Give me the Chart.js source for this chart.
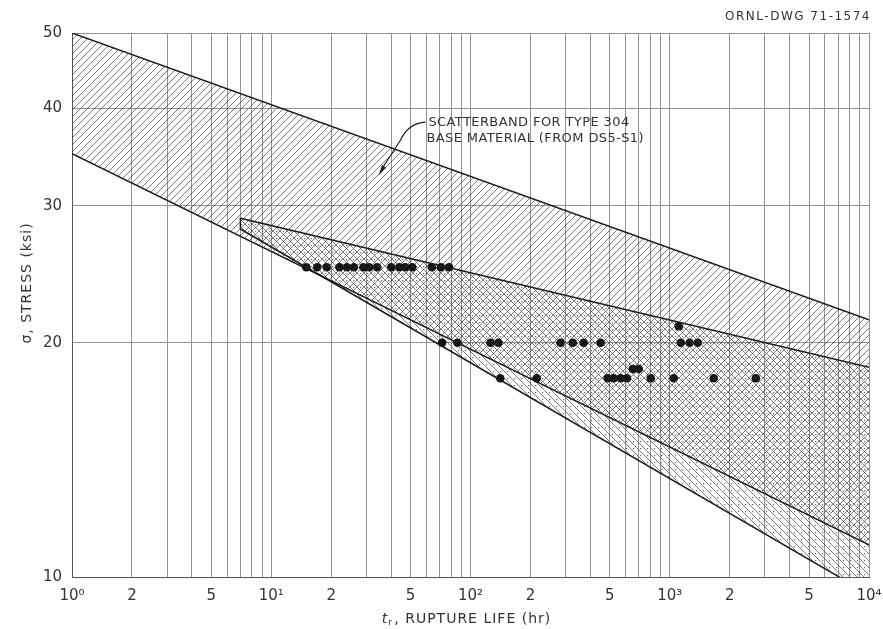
<!DOCTYPE html>
<html>
<head>
<meta charset="utf-8">
<script src="https://cdn.jsdelivr.net/npm/chart.js@4.4.1/dist/chart.umd.min.js"></script>
<style>
  html, body { margin: 0; background: #fff; }
</style>
</head>
<body>
<canvas id="ruptureChart" width="883" height="629"></canvas>
<script>
// axis ticks
const stressTicks = [10, 20, 30, 40, 50];
const labelledTimes = [1, 2, 5, 10, 20, 50, 100, 200, 500, 1000, 2000, 5000, 10000];
const timeLabels = ['10⁰', '2', '5', '10¹', '2', '5', '10²', '2', '5', '10³', '2', '5', '10⁴'];
const decades = [1, 10, 100, 1000];
const multipliers = [1, 2, 3, 4, 5, 6, 7, 8, 9];

// scatterband for type 304 base material (end points of the band edges)
const baseUpperTime = [1, 10000];
const baseUpperStress = [50, 21.4];
const baseLowerTime = [1, 10000];
const baseLowerStress = [35, 11.0];

// weldment band
const weldUpperTime = [7, 7, 10000];
const weldUpperStress = [28.0, 28.9, 18.6];
const weldLowerTime = [7, 10000];
const weldLowerStress = [28.0, 9.5];

// test results: rupture life (hr) at each stress level (ksi)
const life25 = [15, 17, 19, 22, 24, 26, 29, 31, 34, 40, 44, 47, 51, 64, 71, 78];
const life21 = [1110];
const life20 = [72, 86, 126, 138, 283, 326, 370, 450, 1136, 1258, 1382];
const life185 = [652, 699];
const life18 = [141, 215, 488, 523, 567, 610, 803, 1047, 1663, 2704];

const toPoints = (xs, ys) => xs.map((x, i) => ({ x: x, y: ys[i] }));
const atStress = (times, s) => times.map(t => ({ x: t, y: s }));

const testPoints = [].concat(
  atStress(life25, 25),
  atStress(life21, 21),
  atStress(life20, 20),
  atStress(life185, 18.5),
  atStress(life18, 18)
);

const timeGrid = decades.flatMap(d => multipliers.map(m => m * d)).concat([10000]);

const ctx = document.getElementById('ruptureChart').getContext('2d');

function makeHatch(dir, dots) {
  const size = 7;
  const c = document.createElement('canvas');
  c.width = size; c.height = size;
  const g = c.getContext('2d');
  g.strokeStyle = 'rgba(50,50,50,0.8)';
  g.lineWidth = 0.8;
  g.beginPath();
  if (dir > 0) {
    g.moveTo(0, size); g.lineTo(size, 0);
    g.moveTo(-1, 1); g.lineTo(1, -1);
    g.moveTo(size - 1, size + 1); g.lineTo(size + 1, size - 1);
  } else {
    g.moveTo(0, 0); g.lineTo(size, size);
    g.moveTo(size - 1, -1); g.lineTo(size + 1, 1);
    g.moveTo(-1, size - 1); g.lineTo(1, size + 1);
  }
  g.stroke();
  if (dots) {
    g.fillStyle = 'rgba(40,40,40,0.7)';
    g.fillRect(size / 2 - 0.5, 0, 1.2, 1.2);
  }
  return ctx.createPattern(c, 'repeat');
}

const basePattern = makeHatch(1, false);
const weldPattern = makeHatch(-1, true);

const textColor = '#333';

const notesPlugin = {
  id: 'notes',
  afterDraw(chart) {
    const g = chart.ctx;
    const xs = chart.scales.x, ys = chart.scales.y;
    g.save();
    g.fillStyle = textColor;
    g.strokeStyle = '#222';

    // drawing number
    g.font = '12px "DejaVu Sans"';
    g.letterSpacing = '1.5px';
    g.textAlign = 'right';
    g.textBaseline = 'middle';
    g.fillText('ORNL-DWG 71-1574', 871, 17);

    // band note with leader
    g.font = '13px "DejaVu Sans"';
    g.letterSpacing = '0.4px';
    g.textAlign = 'left';
    const nx = xs.getPixelForValue(61.5), ny = ys.getPixelForValue(38.4);
    g.fillText('SCATTERBAND FOR TYPE 304', nx, ny);
    g.fillText('BASE MATERIAL (FROM DS5-S1)', nx - 2, ny + 16);

    const tipX = xs.getPixelForValue(34.5), tipY = ys.getPixelForValue(32.8);
    g.lineWidth = 1.2;
    g.beginPath();
    g.moveTo(nx - 3, ny);
    g.quadraticCurveTo(nx - 20, ny + 1, nx - 28, ny + 18);
    g.lineTo(tipX + 3, tipY - 6);
    g.stroke();
    const ang = Math.atan2(tipY - (ny + 18), tipX - (nx - 28));
    g.beginPath();
    g.moveTo(tipX, tipY);
    g.lineTo(tipX - 11 * Math.cos(ang - 0.22), tipY - 11 * Math.sin(ang - 0.22));
    g.lineTo(tipX - 11 * Math.cos(ang + 0.22), tipY - 11 * Math.sin(ang + 0.22));
    g.closePath();
    g.fillStyle = '#222';
    g.fill();

    // axis titles
    g.fillStyle = textColor;
    g.font = '14px "DejaVu Sans"';
    g.letterSpacing = '1px';
    g.textAlign = 'center';
    g.save();
    g.translate(27, 283);
    g.rotate(-Math.PI / 2);
    g.fillText('σ, STRESS (ksi)', 0, 0);
    g.restore();

    const cx = (chart.chartArea.left + chart.chartArea.right) / 2 - 4;
    const rest = ', RUPTURE LIFE (hr)';
    g.textAlign = 'left';
    const wRest = g.measureText(rest).width;
    g.font = 'italic 14px "DejaVu Sans"';
    const wT = g.measureText('t').width;
    const start = cx - (wT + 6 + wRest) / 2;
    g.fillText('t', start, 619);
    g.font = '9px "DejaVu Sans"';
    g.letterSpacing = '0px';
    g.fillText('r', start + wT, 623);
    g.font = '14px "DejaVu Sans"';
    g.letterSpacing = '1px';
    g.fillText(rest, start + wT + 6, 619);
    g.restore();
  }
};

const bandLine = { borderColor: '#1a1a1a', borderWidth: 1.5, pointRadius: 0, tension: 0, showLine: true };

const ruptureChart = new Chart(ctx, {
  type: 'scatter',
  data: {
    datasets: [
      Object.assign({ label: 'Base upper', data: toPoints(baseUpperTime, baseUpperStress),
        fill: '+1', backgroundColor: basePattern }, bandLine),
      Object.assign({ label: 'Base lower', data: toPoints(baseLowerTime, baseLowerStress),
        fill: false }, bandLine),
      Object.assign({ label: 'Weld upper', data: toPoints(weldUpperTime, weldUpperStress),
        fill: '+1', backgroundColor: weldPattern }, bandLine),
      Object.assign({ label: 'Weld lower', data: toPoints(weldLowerTime, weldLowerStress),
        fill: false }, bandLine),
      {
        label: 'Test data',
        data: testPoints,
        showLine: false,
        pointStyle: 'circle',
        pointRadius: 4.3,
        pointBackgroundColor: '#111',
        pointBorderColor: '#111',
        pointBorderWidth: 0
      }
    ]
  },
  options: {
    responsive: false,
    animation: false,
    devicePixelRatio: 1,
    layout: { padding: { top: 33, right: 14, left: 0, bottom: 0 } },
    plugins: {
      legend: { display: false },
      tooltip: { enabled: false }
    },
    scales: {
      x: {
        type: 'logarithmic',
        min: 1,
        max: 10000,
        afterBuildTicks: scale => { scale.ticks = timeGrid.map(v => ({ value: v })); },
        afterFit: scale => {
          scale.height = 52;
          scale.paddingLeft = 0;
          scale.paddingRight = 0;
        },
        grid: { color: '#929292', lineWidth: 1, drawTicks: false },
        border: { color: '#555', width: 1 },
        ticks: {
          autoSkip: false,
          maxRotation: 0,
          padding: 10,
          color: textColor,
          font: { family: 'DejaVu Sans', size: 15 },
          callback: value => {
            const i = labelledTimes.indexOf(value);
            return i >= 0 ? timeLabels[i] : '';
          }
        }
      },
      y: {
        type: 'logarithmic',
        min: 10,
        max: 50,
        afterBuildTicks: scale => { scale.ticks = stressTicks.map(v => ({ value: v })); },
        afterFit: scale => {
          scale.width = 72;
          scale.paddingTop = 0;
          scale.paddingBottom = 0;
        },
        grid: { color: '#929292', lineWidth: 1, drawTicks: false },
        border: { color: '#555', width: 1 },
        ticks: {
          padding: 10,
          color: textColor,
          font: { family: 'DejaVu Sans', size: 15 },
          callback: value => String(value)
        }
      }
    }
  },
  plugins: [notesPlugin]
});
</script>
</body>
</html>
